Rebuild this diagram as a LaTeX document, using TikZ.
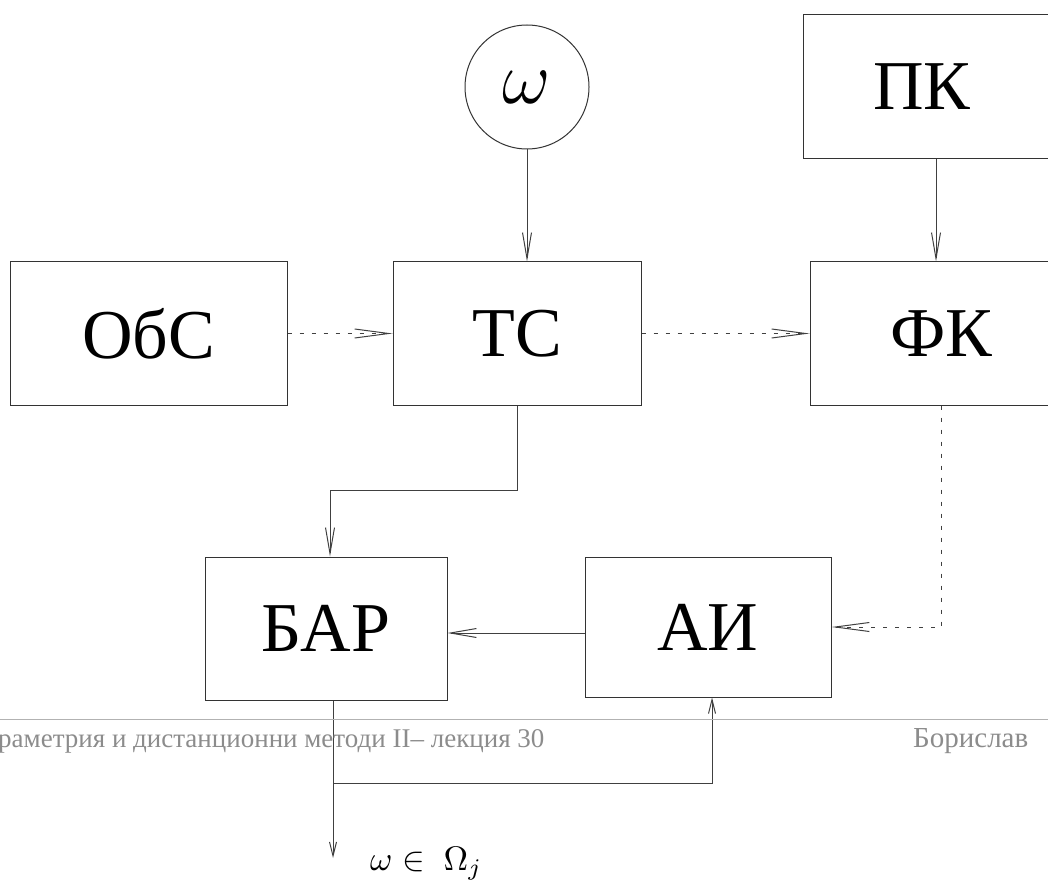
\documentclass[tikz,border=0pt]{standalone}
\usepackage{graphicx}
\usepackage{fontspec}
\setmainfont{Liberation Serif}
\usetikzlibrary{arrows.meta}
\begin{document}
\begin{tikzpicture}[x=1pt,y=-1pt,
  box/.style={draw=black!80, line width=1pt, rectangle, inner sep=0pt, font=\fontsize{70}{76}\selectfont},
  conn/.style={draw=black!75, line width=1pt},
  arr/.style={conn, -{Straight Barb[length=26pt,width=9pt]}},
  sarr/.style={conn, -{Straight Barb[length=14pt,width=7pt]}},
  darr/.style={conn, dash pattern=on 4pt off 8pt, -{Straight Barb[length=34pt,width=9pt]}},
  foot/.style={anchor=base west, inner sep=0pt, text=black!45}]
\useasboundingbox (0,0) rectangle (1048,882);
% boxes
\node[box, draw, circle, minimum size=124pt] (om) at (527,87) {\scalebox{3}{$\omega$}};
\node[box, minimum width=257pt, minimum height=144pt] (pkb) at (931.5,87) {};
\node[box, draw=none] (pk) at (922,87) {ПК};
\node[box, minimum width=277pt, minimum height=143pt] (obs) at (148.5,333.5) {ОбС};
\node[box, minimum width=248pt, minimum height=143pt] (ts) at (517,333.5) {ТС};
\node[box, minimum width=262pt, minimum height=143pt] (fk) at (941,333.5) {ФК};
\node[box, minimum width=242pt, minimum height=143pt] (bar) at (326,628.5) {БАР};
\node[box, minimum width=246pt, minimum height=140pt] (ai) at (708,627) {АИ};
% coordinates
\coordinate (c1) at (330,490);
\coordinate (c2) at (936,0);
\coordinate (c4) at (0,633);
\coordinate (c5) at (333,783);
\coordinate (c6) at (712,783);
\coordinate (out) at (333,858);
% connectors
\draw[arr] (om.south) -- (om.south |- ts.north);
\draw[arr] (c2 |- pkb.south) -- (c2 |- fk.north);
\draw[darr] (obs.east) -- (ts.west);
\draw[darr] (ts.east) -- (fk.west);
\draw[arr] (ts.south) |- (c1) -- (c1 |- bar.north);
\draw[darr] (fk.south) |- (ai.east);
\draw[arr] (ai.west |- c4) -- (bar.east |- c4);
\draw[sarr] (bar.south -| c5) -- (out);
\draw[sarr] (c5) -- (c6) -- (c6 |- ai.south);
\node[anchor=base west, inner sep=0pt] (lab) at (370,870) {\scalebox{3.4}{$\omega\in\;\Omega_j$}};
% footer
\coordinate (f1) at (0,719);
\coordinate (f2) at (1048,719);
\draw[draw=black!30, line width=1pt] (f1) -- (f2);
\node[foot, font=\fontsize{27}{30}\selectfont] (ft1) at (-2,747) {раметрия и дистанционни методи II– лекция 30};
\node[foot, font=\fontsize{29}{32}\selectfont] (ft2) at (913,747) {Борислав};
\end{tikzpicture}
\end{document}
